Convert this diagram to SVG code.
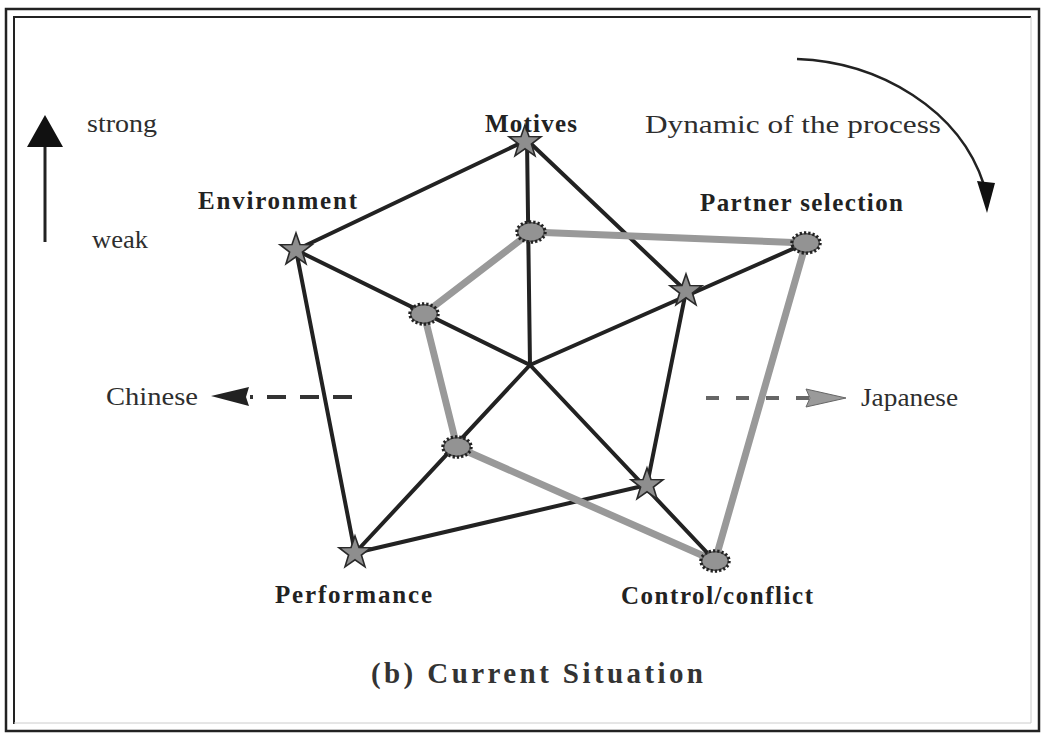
<svg xmlns="http://www.w3.org/2000/svg" width="1043" height="733" viewBox="0 0 1043 733">
  <style>
    .body { font-family: "Liberation Serif", "Times New Roman", serif; font-size: 26px; fill: #2e2e2e; }
    .lbl { font-family: "Liberation Serif", "Times New Roman", serif; font-size: 25px; font-weight: bold; fill: #222; }
    .cap { font-family: "Liberation Serif", "Times New Roman", serif; font-size: 29px; font-weight: bold; fill: #333; }
    .dark { stroke: #222; stroke-width: 4; fill: none; stroke-linecap: round; }
    .grey { stroke: #999; stroke-width: 7; fill: none; stroke-linecap: round; }
    .star { fill: #8e8e8e; stroke: #2a2a2a; stroke-width: 1.6; stroke-linejoin: miter; }
    .gear-teeth { fill: #555; stroke: #222; stroke-width: 3.5; stroke-dasharray: 2.2 2; }
    .gear-body { fill: #939393; stroke: none; }
  </style>
  <defs>
    <polygon id="star" points="0,-17 4,-5.5 16,-5.3 6.4,2 10,13.8 0,6.8 -10,13.8 -6.4,2 -16,-5.3 -4,-5.5"/>
    <g id="gear">
      <ellipse class="gear-teeth" cx="0" cy="0" rx="14" ry="10"/>
      <ellipse class="gear-body" cx="0" cy="0" rx="12.5" ry="8.5"/>
    </g>
  </defs>

  <rect width="1043" height="733" fill="#fff"/>

  <!-- double frame -->
  <rect x="6" y="9" width="1033" height="722" fill="none" stroke="#222" stroke-width="2.5"/>
  <path d="M14,724 V17 H1031" fill="none" stroke="#222" stroke-width="2"/>
  <path d="M1031,17 V723 H14" fill="none" stroke="#ccc" stroke-width="1"/>

  <!-- legend: strength scale -->
  <g id="scale">
    <line x1="45" y1="242" x2="45" y2="146" stroke="#222" stroke-width="3"/>
    <polygon points="45,115 63,147 27,147" fill="#111"/>
    <text class="body" x="87" y="132" textLength="70" lengthAdjust="spacingAndGlyphs">strong</text>
    <text class="body" x="92" y="248" textLength="56" lengthAdjust="spacingAndGlyphs">weak</text>
  </g>

  <!-- process direction -->
  <g id="dynamic">
    <path d="M797,59 C880,62 960,110 984,185" fill="none" stroke="#222" stroke-width="2.5"/>
    <polygon points="977,181 995,183 987,213" fill="#111"/>
    <text class="body" x="645" y="133" textLength="296" lengthAdjust="spacingAndGlyphs">Dynamic of the process</text>
  </g>

  <!-- orientation arrows -->
  <g id="chinese">
    <line x1="352" y1="397" x2="250" y2="397" stroke="#333" stroke-width="4" stroke-dasharray="19 14"/>
    <polygon points="211,396 249,387 246,397 249,406" fill="#222"/>
    <text class="body" x="106" y="405" textLength="92" lengthAdjust="spacingAndGlyphs">Chinese</text>
  </g>
  <g id="japanese">
    <line x1="706" y1="398" x2="810" y2="398" stroke="#666" stroke-width="4" stroke-dasharray="13 17"/>
    <polygon points="846,398 806,389 810,398 806,407" fill="#9a9a9a" stroke="#666" stroke-width="1"/>
    <text class="body" x="861" y="406" textLength="97" lengthAdjust="spacingAndGlyphs">Japanese</text>
  </g>

  <!-- connectors -->
  <g id="connectors">
    <!-- spokes from the centre -->
    <line class="dark" x1="530" y1="365" x2="527" y2="140"/>
    <line class="dark" x1="530" y1="365" x2="806" y2="243"/>
    <line class="dark" x1="530" y1="365" x2="715" y2="561"/>
    <line class="dark" x1="530" y1="365" x2="355" y2="553"/>
    <line class="dark" x1="530" y1="365" x2="296" y2="250"/>
    <!-- outer pentagon -->
    <polygon class="dark" points="527,140 686,291 647,485 355,553 296,250" stroke-linejoin="round"/>
    <!-- current situation pentagon -->
    <polygon class="grey" points="531,232 806,243 715,561 457,447 424,314" stroke-linejoin="round"/>
  </g>

  <!-- nodes -->
  <g id="motives">
    <use href="#star" class="star" x="525" y="142"/>
    <use href="#gear" x="531" y="232"/>
    <text class="lbl" x="485" y="132" textLength="92" lengthAdjust="spacing">Motives</text>
  </g>
  <g id="partner-selection">
    <use href="#star" class="star" x="686" y="291"/>
    <use href="#gear" x="806" y="243"/>
    <text class="lbl" x="700" y="211" textLength="203" lengthAdjust="spacing">Partner selection</text>
  </g>
  <g id="control-conflict">
    <use href="#star" class="star" x="647" y="485"/>
    <use href="#gear" x="715" y="561"/>
    <text class="lbl" x="621" y="604" textLength="192" lengthAdjust="spacing">Control/conflict</text>
  </g>
  <g id="performance">
    <use href="#star" class="star" x="355" y="553"/>
    <use href="#gear" x="457" y="447"/>
    <text class="lbl" x="275" y="603" textLength="157" lengthAdjust="spacing">Performance</text>
  </g>
  <g id="environment">
    <use href="#star" class="star" x="296" y="250"/>
    <use href="#gear" x="424" y="314"/>
    <text class="lbl" x="198" y="209" textLength="159" lengthAdjust="spacing">Environment</text>
  </g>

  <text class="cap" x="371" y="683" textLength="332" lengthAdjust="spacing">(b) Current Situation</text>
</svg>
